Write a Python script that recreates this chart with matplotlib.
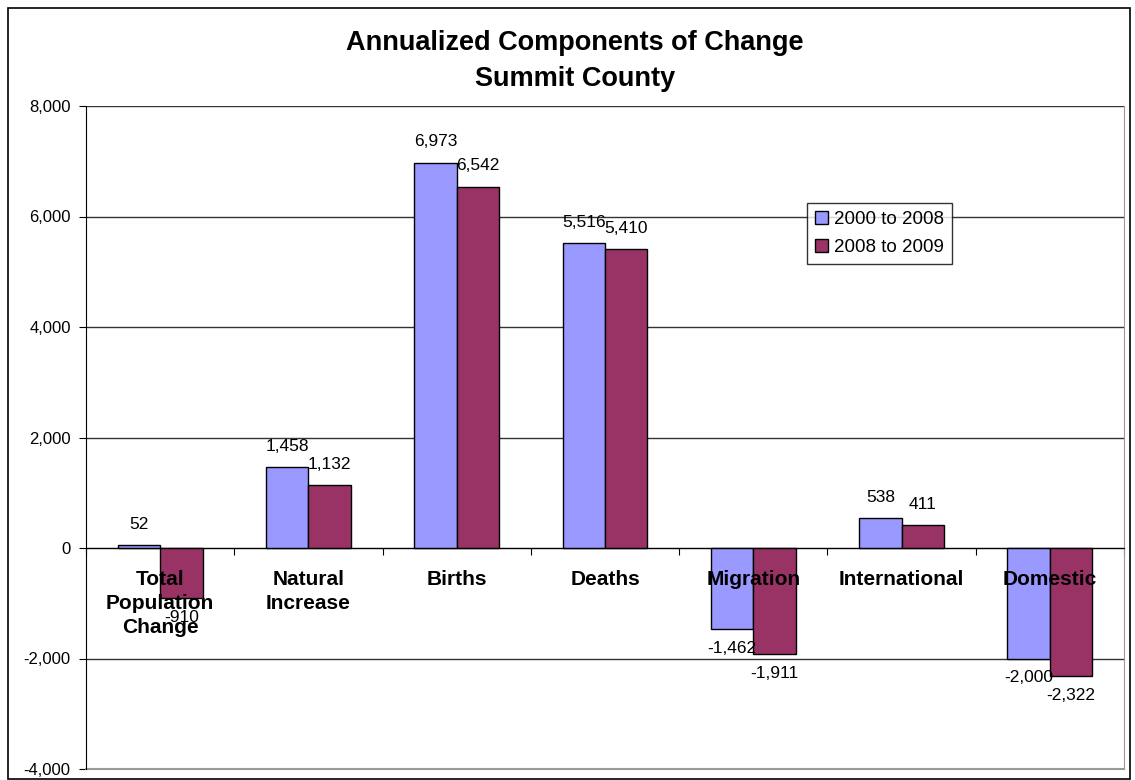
import matplotlib
matplotlib.use("Agg")
import matplotlib.pyplot as plt
import matplotlib.ticker as mticker
from matplotlib.patches import Rectangle
import numpy as np

plt.rcParams['font.family'] = ['Liberation Sans', 'DejaVu Sans']

# data
categories = ['Total\nPopulation\nChange', 'Natural\nIncrease', 'Births', 'Deaths',
              'Migration', 'International', 'Domestic']
series_names = ['2000 to 2008', '2008 to 2009']
vals_2000_2008 = [52, 1458, 6973, 5516, -1462, 538, -2000]
vals_2008_2009 = [-910, 1132, 6542, 5410, -1911, 411, -2322]
y_ticks = [-4000, -2000, 0, 2000, 4000, 6000, 8000]

blue = '#9999FF'
red = '#993366'

fig = plt.figure(figsize=(11.35, 7.8), dpi=100)
ax = fig.add_axes([86/1135, 1-769/780, (1124-86)/1135, (769-106)/780])

# outer chart border
fig.patches.append(Rectangle((8/1135, 1/780), 1122/1135, 771/780, transform=fig.transFigure,
                             fill=False, edgecolor='black', linewidth=1.2))

x = np.arange(len(categories))
w = 1/3.5
b1 = ax.bar(x - w/2, vals_2000_2008, w, color=blue, edgecolor='black', linewidth=1, label=series_names[0], zorder=3)
b2 = ax.bar(x + w/2, vals_2008_2009, w, color=red, edgecolor='black', linewidth=1, label=series_names[1], zorder=3)

for bars, vals in [(b1, vals_2000_2008), (b2, vals_2008_2009)]:
    for r, v in zip(bars, vals):
        off = 15 if v >= 0 else -14
        ax.annotate(f'{v:,}', (r.get_x() + r.get_width()/2, v), xytext=(0, off),
                    textcoords='offset points', ha='center', va='center', fontsize=12.5, zorder=5)

ax.set_xlim(-0.5, len(categories) - 0.5)
ax.set_ylim(-4000, 8000)
ax.set_yticks(y_ticks)
ax.yaxis.set_major_formatter(mticker.FuncFormatter(lambda v, p: f'{int(v):,}'))
ax.tick_params(axis='y', labelsize=12, length=5, direction='out', pad=6)
ax.grid(axis='y', color='#333333', linewidth=1, zorder=0)
ax.set_axisbelow(True)

# category axis drawn at zero
ax.spines['bottom'].set_position(('data', 0))
ax.spines['bottom'].set_zorder(4)
ax.set_xticks(np.arange(len(categories) + 1) - 0.5)
ax.set_xticklabels([])
ax.tick_params(axis='x', length=5, direction='out', color='black')
ax.spines['top'].set_visible(False)
ax.spines['right'].set_color('#999999')
ax.plot([0, 1], [0, 0], transform=ax.transAxes, color='#999999', lw=1.5, clip_on=False)

for xi, c in zip(x, categories):
    ax.annotate(c, (xi, 0), xytext=(0, -16), textcoords='offset points', ha='center', va='top',
                fontsize=15, fontweight='bold', linespacing=1.32, zorder=6)

fig.text(575/1135, 1-61/780, 'Annualized Components of Change\nSummit County', ha='center', va='center',
         fontsize=19.5, fontweight='bold', linespacing=1.45)

leg = ax.legend(loc='upper left', bbox_to_anchor=((807-86)/1038, (769-203)/663), frameon=True,
                fancybox=False, edgecolor='black', fontsize=13.5, handlelength=0.7, handleheight=0.7,
                handletextpad=0.35, borderpad=0.4, labelspacing=0.6, borderaxespad=0)
leg.get_frame().set_linewidth(1)
leg.set_zorder(7)

fig.savefig('out.png', dpi=100)
